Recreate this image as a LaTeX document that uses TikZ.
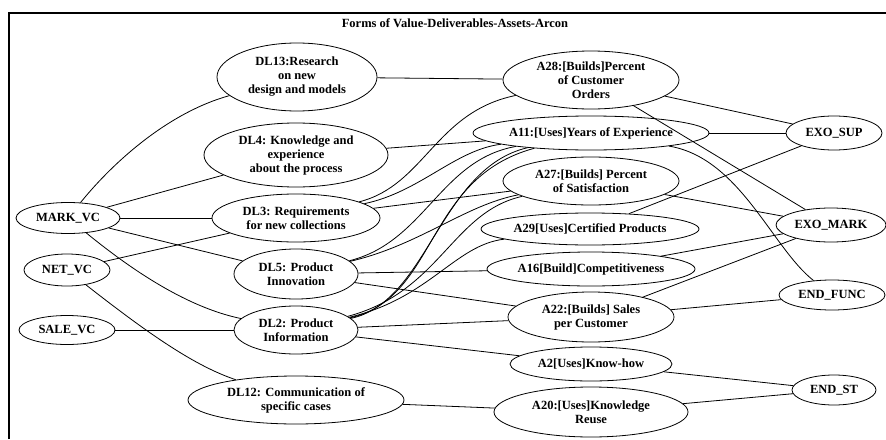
\documentclass[tikz,border=0pt]{standalone}
\usepackage{fontspec}
\setmainfont{Liberation Serif}
\usetikzlibrary{shapes.geometric}
\newcommand{\labelfont}{\fontsize{12.5}{14}\selectfont\bfseries}
\tikzset{
  vnode/.style={draw, ellipse, line width=0.8pt, inner xsep=-40pt, inner ysep=-12pt,
    align=center, font=\labelfont},
  link/.style={line width=0.8pt},
}
% name, centre, width, height, label
\newcommand{\vn}[5]{\node[vnode, minimum width=#3pt, minimum height=#4pt] (#1) at (#2) {#5};}
\begin{document}
\begin{tikzpicture}[x=1pt, y=-1pt]
\useasboundingbox (0,0) rectangle (886,439);
% frame
\draw[line width=1.8pt] (9,439) -- (9,13) -- (887,13);
\node[font=\labelfont] (title) at (455,23) {Forms of Value-Deliverables-Assets-Arcon};

% value systems
\vn{mark}{68,218}{104}{31}{MARK\_VC}
\vn{net}{67,270}{86}{32}{NET\_VC}
\vn{sale}{67,330}{96}{29}{SALE\_VC}
% deliverables
\vn{dl13}{297,77}{160}{68}{DL13:Research\\on new\\design and models}
\vn{dl4}{296,155}{184}{64}{DL4: Knowledge and\\experience\\about the process}
\vn{dl3}{296,218}{168}{48}{DL3: Requirements\\for new collections}
\vn{dl5}{296,274}{124}{50}{DL5: Product\\Innovation}
\vn{dl2}{296,330}{124}{48}{DL2: Product\\Information}
\vn{dl12}{296,400}{216}{48}{DL12: Communication of\\specific cases}
% assets
\vn{a28}{591,80}{176}{58}{A28:[Builds]Percent\\of Customer\\Orders}
\vn{a11}{591,133}{236}{34}{A11:[Uses]Years of Experience}
\vn{a27}{591,181}{176}{48}{A27:[Builds] Percent\\of Satisfaction}
\vn{a29}{590,229}{218}{32}{A29[Uses]Certified Products}
\vn{a16}{591,269}{208}{34}{A16[Build]Competitiveness}
\vn{a22}{591,317}{166}{50}{A22:[Builds] Sales\\per Customer}
\vn{a2}{591,364}{162}{34}{A2[Uses]Know-how}
\vn{a20}{591,412}{194}{50}{A20:[Uses]Knowledge\\Reuse}
% endogenous / exogenous
\vn{exosup}{834,133}{96}{34}{EXO\_SUP}
\vn{exomark}{831,225}{110}{34}{EXO\_MARK}
\vn{endfunc}{832,295}{106}{30}{END\_FUNC}
\vn{endst}{834,390}{84}{30}{END\_ST}

% value systems to deliverables
\draw[link] (mark) .. controls (115,160) and (170,112) .. (dl13);
\draw[link] (mark) -- (dl4);
\draw[link] (mark) -- (dl3);
\draw[link] (mark) -- (dl5);
\draw[link] (mark) .. controls (150,285) and (200,310) .. (dl2);
\draw[link] (net) -- (dl3);
\draw[link] (net) .. controls (150,335) and (195,366) .. (dl12);
\draw[link] (sale) -- (dl2);

% deliverables to assets
\draw[link] (dl13) -- (a28);
\draw[link] (dl4) -- (a11);
\draw[link] (dl3) .. controls (425,185) and (435,112) .. (a28);
\draw[link] (dl3) .. controls (420,192) and (455,150) .. (a11);
\draw[link] (dl3) -- (a27);
\draw[link] (dl5) .. controls (425,242) and (440,160) .. (a11);
\draw[link] (dl5) .. controls (420,245) and (465,205) .. (a27);
\draw[link] (dl5) -- (a16);
\draw[link] (dl5) -- (a22);
\draw[link] (dl2) .. controls (438,298) and (424,178) .. (a11);
\draw[link] (dl2) .. controls (428,302) and (440,168) .. (a11);
\draw[link] (dl2) .. controls (440,292) and (452,212) .. (a27);
\draw[link] (dl2) .. controls (430,298) and (455,245) .. (a29);
\draw[link] (dl2) -- (a22);
\draw[link] (dl2) -- (a2);
\draw[link] (dl12) -- (a20);

% assets to endogenous / exogenous
\draw[link] (a28) -- (exosup);
\draw[link] (a28) -- (exomark);
\draw[link] (a11) -- (exosup);
\draw[link] (a11) .. controls (740,158) and (772,248) .. (endfunc);
\draw[link] (a27) -- (exomark);
\draw[link] (a29) -- (exosup);
\draw[link] (a16) -- (exomark);
\draw[link] (a22) -- (exomark);
\draw[link] (a22) -- (endfunc);
\draw[link] (a2) -- (endst);
\draw[link] (a20) -- (endst);
\end{tikzpicture}
\end{document}
